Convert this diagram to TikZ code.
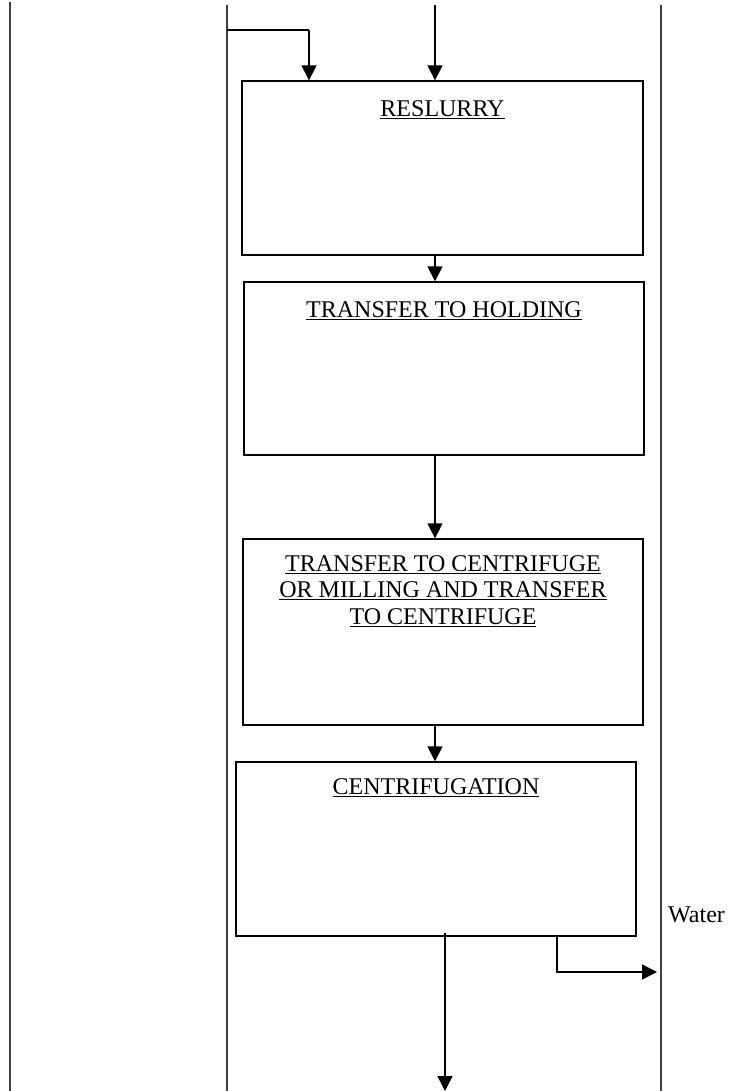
\documentclass[tikz,border=0pt]{standalone}
\usepackage{fontspec}
\setmainfont{Liberation Serif}
\usetikzlibrary{arrows.meta,positioning}
\tikzset{
	stepbox/.style={draw,line width=1.3pt,minimum width=401pt,inner sep=0pt},
	heading/.style={anchor=base,align=center,inner sep=0pt,font=\fontsize{24}{26.5}\selectfont},
	flow/.style={line width=1.3pt,-{Triangle[width=15pt,length=15pt]}},
	lane/.style={line width=1.4pt,black!75}
}
\begin{document}
\begin{tikzpicture}[x=1pt,y=-1pt]
				\useasboundingbox (0,0) rectangle (731,1091);
				%\def\colx{435}
				
				\coordinate (feedi) at (227,5);
				\coordinate (feedii) at (435,5);
				\coordinate (turn) at (309,30);
				
				% lanes
				\draw[lane] (10,2) -- (10,1091);
				\draw[lane] (feedi) -- (227,1091);
				\draw[lane] (661,5) -- (661,1091);
				
				% boxes
				\node[stepbox,minimum height=174pt] (reslurry) at (442.5,168) {};
				\node[stepbox,minimum width=400pt,minimum height=173pt] (holding) at (444,368.5) {};
				\node[stepbox,minimum width=400pt,minimum height=186pt] (centrifuge) at (443,632) {};
				\node[stepbox,minimum width=400pt,minimum height=174pt] (centrifugation) at (436,849) {};
				
				\node[heading] (reslurryT) at ([yshift=-36pt]reslurry.north) {\underline{RESLURRY}};
				\node[heading] (holdingT) at ([yshift=-36pt]holding.north) {\underline{TRANSFER TO HOLDING}};
				\node[heading,anchor=north] (centrifugeT) at ([yshift=-17pt]centrifuge.north) {\underline{TRANSFER TO CENTRIFUGE}\\\underline{OR MILLING AND TRANSFER}\\\underline{TO CENTRIFUGE}};
				\node[heading] (centrifugationT) at ([yshift=-33pt]centrifugation.north) {\underline{CENTRIFUGATION}};
				\node[heading,anchor=base west] (water) at (668,922) {Water};
				
				% connectors
				\draw[line width=1.3pt] (227,30) -- (turn);
				\draw[flow] (turn) -- (turn |- reslurry.north);
				\draw[flow] (feedii) -- (feedii |- reslurry.north);
				\draw[flow] (reslurry.south -| feedii) -- (holding.north -| feedii);
				\draw[flow] (holding.south -| feedii) -- (centrifuge.north -| feedii);
				\draw[flow] (centrifuge.south -| feedii) -- (centrifugation.north -| feedii);
				
				\coordinate (out) at (445,1091);
				\coordinate (waterend) at (657,972);
				\draw[flow] ([yshift=4pt]centrifugation.south -| out) -- (out);
				\draw[flow] (centrifugation.south -| 557,0) |- (waterend);
			\end{tikzpicture}
\end{document}
